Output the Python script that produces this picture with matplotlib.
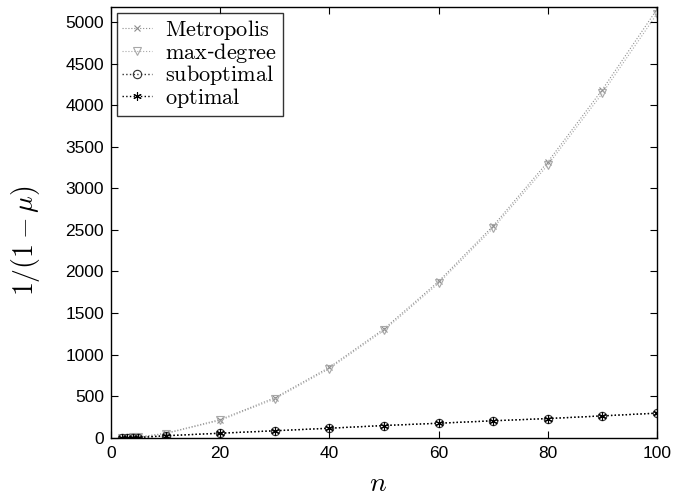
import numpy as np
import matplotlib
matplotlib.use('Agg')
import matplotlib.pyplot as plt

plt.rcParams['mathtext.fontset'] = 'cm'
plt.rcParams['font.family'] = ['Liberation Sans', 'DejaVu Sans']

# data
n = [2, 3, 4, 5, 10, 20, 30, 40, 50, 60, 70, 80, 90, 100]
metropolis = [2, 4, 6, 9, 55, 220, 482, 848, 1310, 1880, 2548, 3315, 4185, 5150]
max_degree = [2, 4, 6, 9, 50, 210, 468, 832, 1292, 1858, 2522, 3278, 4140, 5095]
suboptimal = [1, 2, 3, 4, 25, 56, 85, 116, 148, 176, 205, 232, 264, 297]
optimal = [1, 2, 3, 4, 25, 56, 85, 116, 148, 176, 205, 232, 264, 297]

fig = plt.figure(figsize=(6.73, 4.97), dpi=100)
ax = fig.add_axes([0.165, 0.119, 0.811, 0.867])

ax.plot(n, metropolis, ls=':', lw=0.8, color='#8c8c8c', marker='x', ms=5,
        mew=0.8, label=r'$\mathrm{Metropolis}$')
ax.plot(n, max_degree, ls=':', lw=0.8, color='#a8a8a8', marker='v', ms=6,
        mfc='none', mew=0.8, label=r'$\mathrm{max}$-$\mathrm{degree}$')
ax.plot(n, suboptimal, ls=':', lw=1.0, color='#333333', marker='o', ms=6,
        mfc='none', mew=0.8, label=r'$\mathrm{suboptimal}$')
ax.plot(n, optimal, ls=':', lw=1.0, color='black', marker=(6, 2, 0), ms=6,
        mew=0.8, label=r'$\mathrm{optimal}$')

ax.set_xlim(0, 100)
ax.set_ylim(0, 5180)
ax.set_xticks(np.arange(0, 101, 20))
ax.set_yticks(np.arange(0, 5001, 500))
ax.tick_params(direction='in', top=True, right=True, labelsize=12.5, length=5)
ax.tick_params(axis='x', pad=6)
ax.tick_params(axis='y', pad=5)
for s in ax.spines.values():
    s.set_linewidth(1.0)

ax.set_xlabel(r'$n$', fontsize=20)
ax.set_ylabel(r'$1/(1-\mu)$', fontsize=20)
ax.xaxis.set_label_coords(0.489, -0.078)
ax.yaxis.set_label_coords(-0.127, 0.457)

leg = ax.legend(loc='upper left', fontsize=16, frameon=True, fancybox=False,
                edgecolor='black', borderaxespad=0.25, handlelength=1.35,
                handletextpad=0.6, borderpad=0.25, labelspacing=-0.06)
leg.get_frame().set_linewidth(1.0)

fig.savefig('out.png', dpi=100)
